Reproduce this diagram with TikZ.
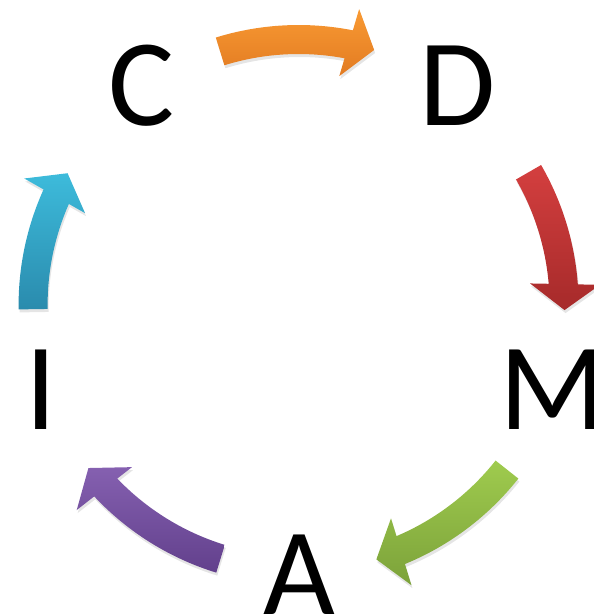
\documentclass[tikz,border=0pt]{standalone}
\usepackage{fontspec}
\setmainfont{Carlito}
\usetikzlibrary{calc}
\definecolor{orT}{HTML}{F99A33}
\definecolor{orB}{HTML}{E27B22}
\definecolor{reT}{HTML}{D43F3F}
\definecolor{reB}{HTML}{A62A2A}
\definecolor{grT}{HTML}{9FCB4E}
\definecolor{grB}{HTML}{7CA23A}
\definecolor{puT}{HTML}{8560B0}
\definecolor{puB}{HTML}{62408C}
\definecolor{cyT}{HTML}{3DBBDB}
\definecolor{cyB}{HTML}{2A8BAD}
\begin{document}
\begin{tikzpicture}[x=1pt,y=1pt,
  letter/.style={inner sep=0pt, anchor=base, font=\fontsize{124}{124}\selectfont, text=black}]
\useasboundingbox (0,0) rectangle (594,-614);
\clip (0,0) rectangle (594,-614);
\coordinate (O) at (298.6,-305);
\foreach \a/\b/\ct/\cb in {107.2/73.5/orT/orB, 30.0/-1.1/reT/reB, -38.3/-73.0/grT/grB, -107.1/-142.2/puT/puB, 180.9/150.3/cyT/cyB}{
  \fill[black, opacity=0.10] ($(O)+(\a:280pt)+(1,-3)$) arc[start angle=\a, end angle=\b+5.32, radius=280pt]
    -- ($(O)+(\b+4.94:302.1pt)+(1,-3)$) -- ($(O)+(\b:266pt)+(1,-3)$) -- ($(O)+(\b+6.42:232.5pt)+(1,-3)$)
    -- ($(O)+(\b+5.95:251pt)+(1,-3)$) arc[start angle=\b+5.95, end angle=\a, radius=251pt] -- cycle;
  \shade[top color=\ct, bottom color=\cb] ($(O)+(\a:280pt)$) arc[start angle=\a, end angle=\b+5.32, radius=280pt]
    -- ($(O)+(\b+4.94:302.1pt)$) -- ($(O)+(\b:266pt)$) -- ($(O)+(\b+6.42:232.5pt)$)
    -- ($(O)+(\b+5.95:251pt)$) arc[start angle=\b+5.95, end angle=\a, radius=251pt] -- cycle;
}
\node[letter] (C) at (141.5,-125.5) {C};
\node[letter] (D) at (457.5,-125.5) {D};
\node[letter] (M) at (553,-429) {M};
\node[letter] (A) at (299,-614) {A};
\node[letter] (I) at (41.5,-429) {I};
\end{tikzpicture}
\end{document}
